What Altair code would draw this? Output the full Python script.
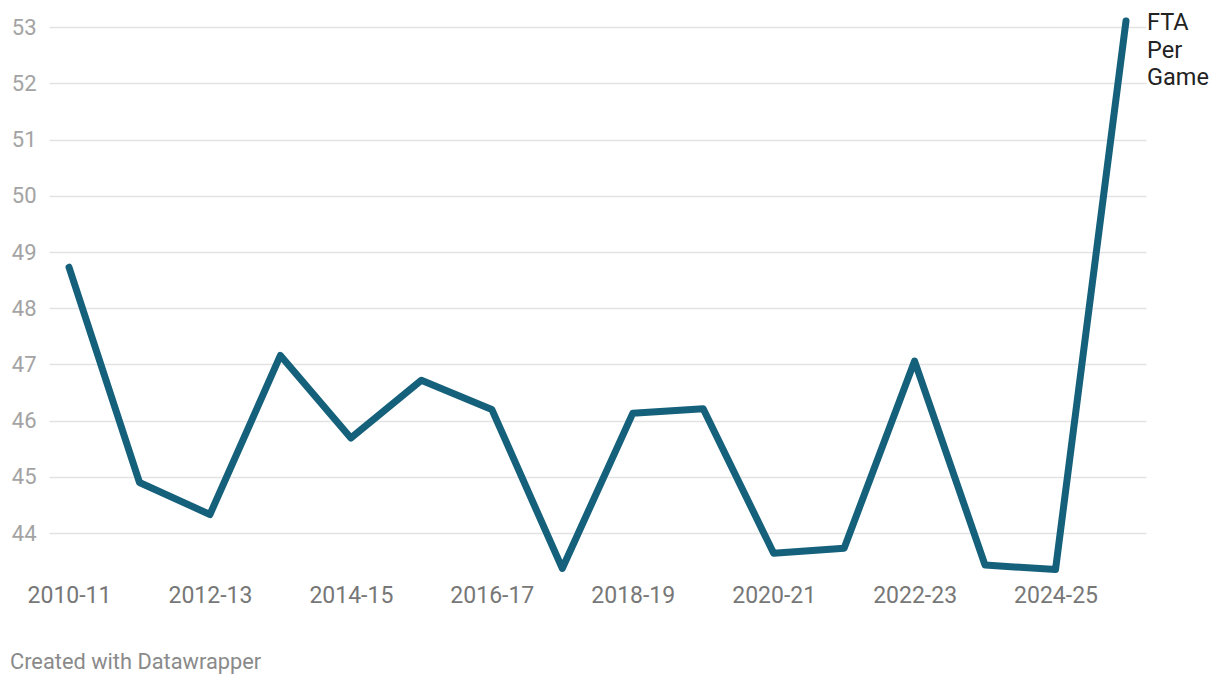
import altair as alt
import pandas as pd

seasons = ["2010-11", "2011-12", "2012-13", "2013-14", "2014-15", "2015-16",
           "2016-17", "2017-18", "2018-19", "2019-20", "2020-21", "2021-22",
           "2022-23", "2023-24", "2024-25", "2025-26"]
fta_per_game = [48.73, 44.90, 44.33, 47.16, 45.69, 46.72, 46.20, 43.37,
                46.13, 46.21, 43.64, 43.73, 47.06, 43.43, 43.35, 53.11]
y_ticks = [44, 45, 46, 47, 48, 49, 50, 51, 52, 53]
x_label_values = seasons[::2]
series_label = ["FTA", "Per", "Game"]
credit = "Created with Datawrapper"

df = pd.DataFrame({"season": seasons, "value": fta_per_game})
last = df.tail(1).assign(label=[series_label])

font = "Roboto"

x = alt.X("season:O", sort=seasons,
          scale=alt.Scale(type="point", padding=0.284),
          axis=alt.Axis(values=x_label_values, title=None, domain=False, ticks=False,
                        labelAngle=0, labelFont=font, labelFontSize=23,
                        labelColor="#777777", labelPadding=6, grid=False))
y = alt.Y("value:Q", scale=alt.Scale(domain=[43.2, 53.2], nice=False, zero=False),
          axis=alt.Axis(values=y_ticks, format="d", title=None, domain=False, ticks=False,
                        labelFont=font, labelFontSize=22, labelColor="#a3a3a3",
                        labelPadding=13, grid=True, gridColor="#e3e3e3",
                        gridWidth=1.5))

line = alt.Chart(df).mark_line(color="#15607a", strokeWidth=7, strokeCap="round",
                               strokeJoin="round").encode(x=x, y=y)

label = alt.Chart(last).mark_text(align="left", baseline="top", dx=21, dy=-10,
                                  font=font, fontSize=23.5, color="#222222",
                                  lineHeight=27.5).encode(
    x=alt.X("season:O", sort=seasons), y="value:Q", text="label")

credit_df = pd.DataFrame({"t": [credit]})
credit_mark = alt.Chart(credit_df).mark_text(align="left", baseline="middle",
                                             font=font, fontSize=21.8,
                                             color="#8a8a8a").encode(
    x=alt.value(-39), y=alt.value(646), text="t:N")

chart = alt.layer(line, label, credit_mark).properties(
    width=1097, height=562,
    padding={"left": 41, "top": 8, "right": 66, "bottom": 102},
    autosize=alt.AutoSizeParams(type="none"),
).configure(background="white").configure_view(strokeWidth=0)

chart.save("out.html", embed_options={"renderer": "svg", "actions": False})
